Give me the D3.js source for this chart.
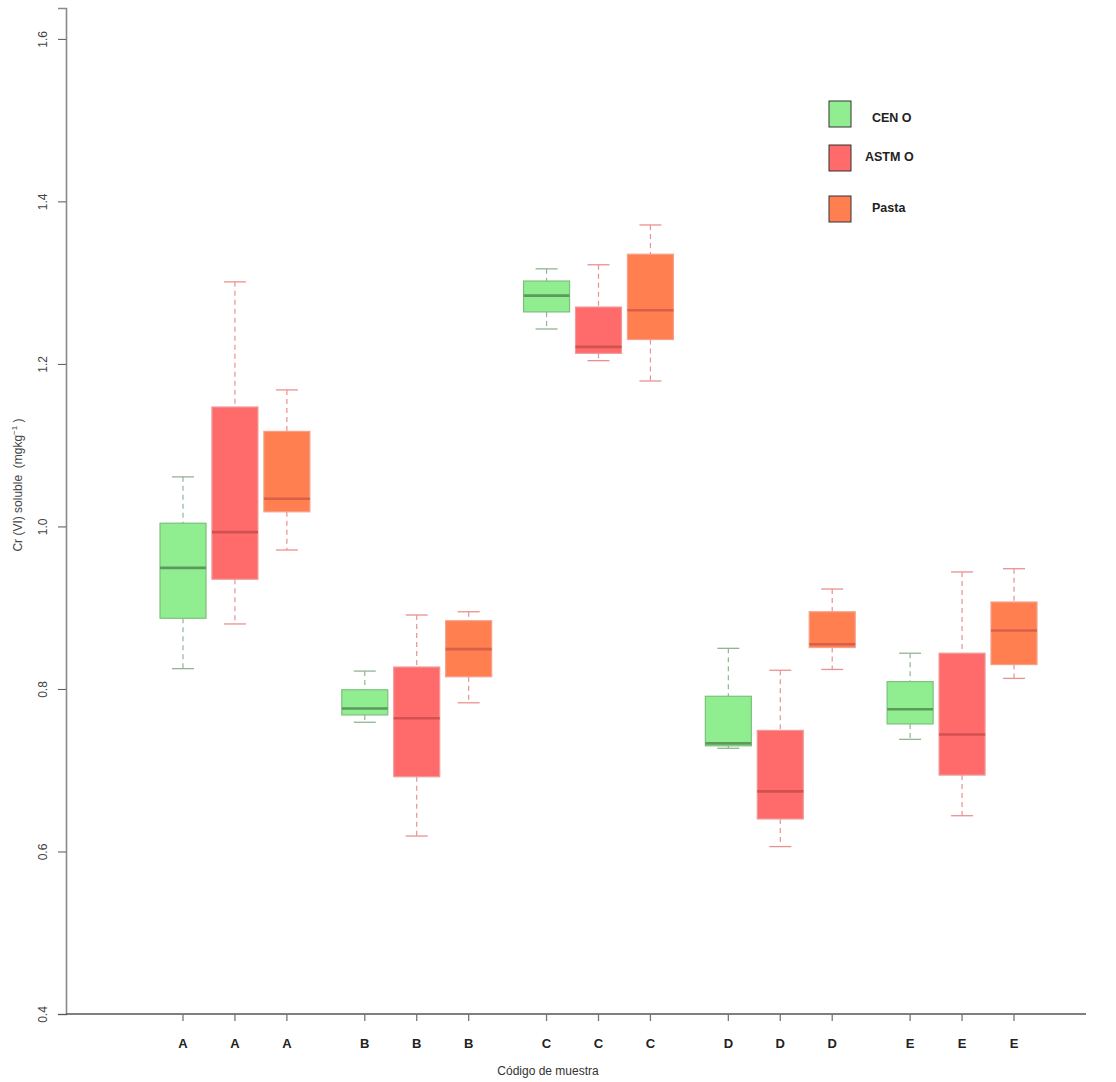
<!DOCTYPE html>
<html>
<head>
<meta charset="utf-8">
<script src="https://cdn.jsdelivr.net/npm/d3@7"></script>
<style>
  body { margin: 0; background: #fff; }
  text { font-family: "Liberation Sans", Arial, sans-serif; }
</style>
</head>
<body>
<svg id="chart" width="1116" height="1082"></svg>
<script>
// Sample codes, one label per box
const labels = ["A","A","A","B","B","B","C","C","C","D","D","D","E","E","E"];
// Method for each box
const methods = ["CEN O","ASTM O","Pasta","CEN O","ASTM O","Pasta","CEN O","ASTM O","Pasta","CEN O","ASTM O","Pasta","CEN O","ASTM O","Pasta"];
// Box positions along the x axis
const positions = [1,2,3, 4.5,5.5,6.5, 8,9,10, 11.5,12.5,13.5, 15,16,17];
// Five-number summaries (mg/kg)
const whiskerLow  = [0.825,0.880,0.971, 0.759,0.619,0.783, 1.243,1.204,1.179, 0.727,0.606,0.824, 0.738,0.644,0.813];
const q1          = [0.887,0.935,1.018, 0.768,0.692,0.815, 1.264,1.213,1.230, 0.730,0.640,0.851, 0.757,0.694,0.830];
const medians     = [0.949,0.993,1.034, 0.776,0.764,0.849, 1.284,1.221,1.266, 0.733,0.674,0.855, 0.775,0.744,0.872];
const q3          = [1.004,1.147,1.117, 0.799,0.827,0.884, 1.302,1.270,1.335, 0.791,0.749,0.895, 0.809,0.844,0.907];
const whiskerHigh = [1.061,1.301,1.168, 0.822,0.891,0.895, 1.317,1.322,1.371, 0.850,0.823,0.923, 0.844,0.944,0.948];
const yTicks = [0.4,0.6,0.8,1.0,1.2,1.4,1.6];
const legendNames = ["CEN O","ASTM O","Pasta"];

const fill    = { "CEN O": "#90EE90", "ASTM O": "#FF6A6A", "Pasta": "#FF7F50" };
const border  = { "CEN O": "#7cc07c", "ASTM O": "#f09a9a", "Pasta": "#f4a08a" };
const medCol  = { "CEN O": "#5b9a5b", "ASTM O": "#d25252", "Pasta": "#d8604a" };
const whisk   = { "CEN O": "#93b493", "ASTM O": "#eb9090", "Pasta": "#eb9090" };

const svg = d3.select("#chart");
const y = d3.scaleLinear().domain([0.4, 1.638]).range([1014, 8]);
const x = d3.scaleLinear().domain([1, 17]).range([183, 1014]);
const halfW = 23, capHalf = 11;

const data = labels.map((l, i) => ({
  label: l, method: methods[i], pos: positions[i],
  lo: whiskerLow[i], q1: q1[i], med: medians[i], q3: q3[i], hi: whiskerHigh[i]
}));

// Y axis
const yAxis = d3.axisLeft(y).tickValues(yTicks).tickFormat(d3.format(".1f")).tickSize(8);
const gy = svg.append("g").attr("transform", "translate(66,0)").call(yAxis);
gy.select(".domain").attr("stroke", "#8a8a8a").attr("stroke-width", 1.6);
gy.selectAll(".tick line").attr("stroke", "#555");
gy.selectAll(".tick text")
  .attr("transform", "translate(-23,0) rotate(-90)")
  .attr("x", 0).attr("dy", "0.35em").attr("text-anchor", "middle")
  .attr("font-size", 12).attr("fill", "#444");

// X axis
svg.append("line").attr("x1", 66).attr("x2", 1086).attr("y1", 1014).attr("y2", 1014)
  .attr("stroke", "#555").attr("stroke-width", 1.3);
const gx = svg.append("g");
gx.selectAll("line").data(data).join("line")
  .attr("x1", d => x(d.pos)).attr("x2", d => x(d.pos))
  .attr("y1", 1014).attr("y2", 1021).attr("stroke", "#777").attr("stroke-width", 1.3);
gx.selectAll("text").data(data).join("text")
  .attr("x", d => x(d.pos)).attr("y", 1048).attr("text-anchor", "middle")
  .attr("font-size", 13).attr("font-weight", "bold").attr("fill", "#222")
  .text(d => d.label);

// Axis titles
svg.append("text").attr("x", 548).attr("y", 1075).attr("text-anchor", "middle")
  .attr("font-size", 12).attr("fill", "#333").text("Código de muestra");
const yt = svg.append("text").attr("transform", "translate(22,485) rotate(-90)")
  .attr("text-anchor", "middle").attr("font-size", 12).attr("fill", "#444")
  .attr("xml:space", "preserve").style("white-space", "pre");
yt.append("tspan").text("Cr (VI) soluble\u00a0\u00a0(mgkg");
yt.append("tspan").attr("dy", -5).attr("font-size", 8).text("−1");
yt.append("tspan").attr("dy", 5).text("\u00a0)");

// Boxes
const g = svg.append("g").selectAll("g").data(data).join("g");
// whiskers
g.append("line").attr("x1", d => x(d.pos)).attr("x2", d => x(d.pos))
  .attr("y1", d => y(d.hi)).attr("y2", d => y(d.q3))
  .attr("stroke", d => whisk[d.method]).attr("stroke-dasharray", "5,4").attr("stroke-width", 1.2);
g.append("line").attr("x1", d => x(d.pos)).attr("x2", d => x(d.pos))
  .attr("y1", d => y(d.q1)).attr("y2", d => y(d.lo))
  .attr("stroke", d => whisk[d.method]).attr("stroke-dasharray", "5,4").attr("stroke-width", 1.2);
// caps
["hi","lo"].forEach(k => {
  g.append("line").attr("x1", d => x(d.pos) - capHalf).attr("x2", d => x(d.pos) + capHalf)
    .attr("y1", d => y(d[k])).attr("y2", d => y(d[k]))
    .attr("stroke", d => whisk[d.method]).attr("stroke-width", 1.3);
});
// box
g.append("rect").attr("x", d => x(d.pos) - halfW).attr("width", halfW * 2)
  .attr("y", d => y(d.q3)).attr("height", d => y(d.q1) - y(d.q3))
  .attr("fill", d => fill[d.method]).attr("stroke", d => border[d.method]).attr("stroke-width", 1.2);
// median
g.append("line").attr("x1", d => x(d.pos) - halfW).attr("x2", d => x(d.pos) + halfW)
  .attr("y1", d => y(d.med)).attr("y2", d => y(d.med))
  .attr("stroke", d => medCol[d.method]).attr("stroke-width", 2.6);

// Legend
const legY = [101, 145, 196];
const legTx = [872, 865, 872];
const legTy = [118, 157, 208];
const lg = svg.append("g").selectAll("g").data(legendNames).join("g");
lg.append("rect").attr("x", 829).attr("y", (d, i) => legY[i]).attr("width", 22).attr("height", 26)
  .attr("fill", d => fill[d]).attr("stroke", "#333").attr("stroke-width", 1);
lg.append("text").attr("x", (d, i) => legTx[i]).attr("y", (d, i) => legTy[i] + 4)
  .attr("font-size", 12.5).attr("font-weight", "bold").attr("fill", "#222").text(d => d);
</script>
</body>
</html>
